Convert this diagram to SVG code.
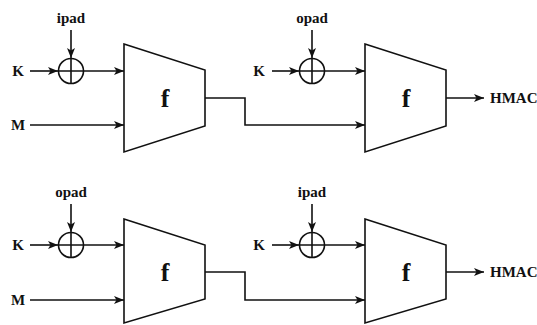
<svg xmlns="http://www.w3.org/2000/svg" width="537" height="325" viewBox="0 0 537 325">
<style>
.ln{fill:none;stroke:#111;stroke-width:1.6}
.tr{fill:#fff;stroke:#111;stroke-width:1.6}
.t{font-family:"Liberation Serif",serif;font-weight:bold;font-size:15px;fill:#111}
.f{font-family:"Liberation Serif",serif;font-weight:bold;font-size:26px;fill:#111}
</style>
<defs>
<marker id="a" markerWidth="10" markerHeight="8" refX="10" refY="4" orient="auto" markerUnits="userSpaceOnUse">
<path d="M0,0 L10,4 L0,8 L2.5,4 Z" fill="#111"/>
</marker>
</defs>
<g id="connectors">
<line class="ln" x1="30" y1="71" x2="58" y2="71" marker-end="url(#a)"/>
<line class="ln" x1="71" y1="30" x2="71" y2="58" marker-end="url(#a)"/>
<line class="ln" x1="84" y1="71" x2="124" y2="71" marker-end="url(#a)"/>
<line class="ln" x1="30" y1="125" x2="124" y2="125" marker-end="url(#a)"/>
<polyline class="ln" points="205,98 245,98 245,125 365,125" marker-end="url(#a)"/>
<line class="ln" x1="272" y1="71" x2="299" y2="71" marker-end="url(#a)"/>
<line class="ln" x1="312" y1="30" x2="312" y2="58" marker-end="url(#a)"/>
<line class="ln" x1="325" y1="71" x2="365" y2="71" marker-end="url(#a)"/>
<line class="ln" x1="445" y1="98" x2="484" y2="98" marker-end="url(#a)"/>

<line class="ln" x1="30" y1="245" x2="58" y2="245" marker-end="url(#a)"/>
<line class="ln" x1="71" y1="204" x2="71" y2="232" marker-end="url(#a)"/>
<line class="ln" x1="84" y1="245" x2="124" y2="245" marker-end="url(#a)"/>
<line class="ln" x1="30" y1="300" x2="124" y2="300" marker-end="url(#a)"/>
<polyline class="ln" points="205,272 245,272 245,300 365,300" marker-end="url(#a)"/>
<line class="ln" x1="272" y1="245" x2="299" y2="245" marker-end="url(#a)"/>
<line class="ln" x1="312" y1="204" x2="312" y2="232" marker-end="url(#a)"/>
<line class="ln" x1="325" y1="245" x2="365" y2="245" marker-end="url(#a)"/>
<line class="ln" x1="445" y1="272" x2="484" y2="272" marker-end="url(#a)"/>
</g>
<g id="labels">
<text class="t" x="18" y="76" text-anchor="middle">K</text>
<text class="t" x="18" y="130" text-anchor="middle">M</text>
<text class="t" x="71" y="23" text-anchor="middle">ipad</text>
<text class="t" x="259" y="76" text-anchor="middle">K</text>
<text class="t" x="312" y="23" text-anchor="middle">opad</text>
<text class="t" x="490" y="103">HMAC</text>
<text class="t" x="18" y="250" text-anchor="middle">K</text>
<text class="t" x="18" y="305" text-anchor="middle">M</text>
<text class="t" x="71" y="197" text-anchor="middle">opad</text>
<text class="t" x="259" y="250" text-anchor="middle">K</text>
<text class="t" x="312" y="197" text-anchor="middle">ipad</text>
<text class="t" x="490" y="277">HMAC</text>
</g>
<g id="xor1"><circle class="tr" cx="71" cy="71" r="12.5"/><path class="ln" d="M58.5,71H83.5M71,58.5V83.5"/></g>
<g id="f1"><polygon class="tr" points="124,44 205,70 205,126 124,152"/><text class="f" x="165" y="107" text-anchor="middle">f</text></g>
<g id="xor2"><circle class="tr" cx="312" cy="71" r="12.5"/><path class="ln" d="M299.5,71H324.5M312,58.5V83.5"/></g>
<g id="f2"><polygon class="tr" points="365,44 446,70 446,126 365,152"/><text class="f" x="406" y="107" text-anchor="middle">f</text></g>
<g id="xor3"><circle class="tr" cx="71" cy="245" r="12.5"/><path class="ln" d="M58.5,245H83.5M71,232.5V257.5"/></g>
<g id="f3"><polygon class="tr" points="124,219 205,245 205,299 124,323"/><text class="f" x="165" y="281" text-anchor="middle">f</text></g>
<g id="xor4"><circle class="tr" cx="312" cy="245" r="12.5"/><path class="ln" d="M299.5,245H324.5M312,232.5V257.5"/></g>
<g id="f4"><polygon class="tr" points="365,219 446,245 446,299 365,323"/><text class="f" x="406" y="281" text-anchor="middle">f</text></g>
</svg>
